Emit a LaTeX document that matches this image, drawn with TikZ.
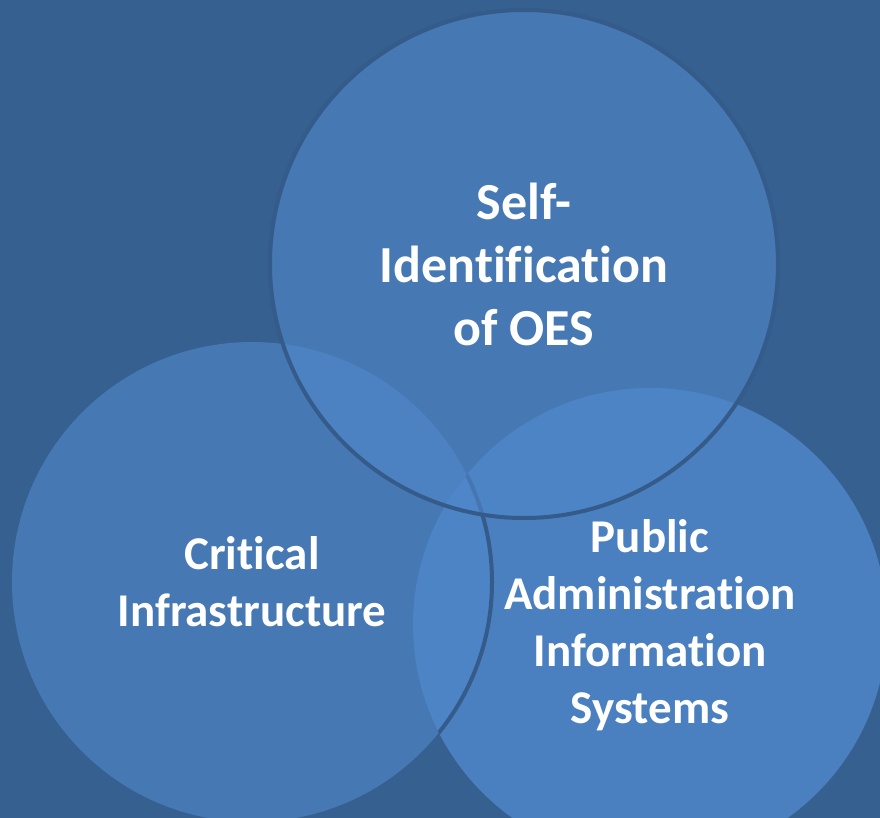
\documentclass[tikz,border=0pt]{standalone}
\usepackage{fontspec}
\setmainfont[Ligatures=NoCommon]{Carlito}
\usepackage{tikz}
\usetikzlibrary{backgrounds}
\definecolor{slideBg}{HTML}{36608F}
\definecolor{vennFill}{HTML}{5088CB}
\definecolor{vennLine}{HTML}{345B8A}
\tikzstyle{vennSet} = [
  circle,
  fill=vennFill,
  fill opacity=0.62,
  text opacity=1,
  text=white,
  align=center,
  inner sep=0pt,
  font=\bfseries\fontsize{47}{57}\selectfont,
  ]
\tikzstyle{vennRim} = [
  draw=vennLine,
  line width=4pt,
  ]

\begin{document}
\begin{tikzpicture}[x=1pt,y=-1pt]
  \fill[slideBg] (0,0) rectangle (880,818);
  \useasboundingbox (0,0) rectangle (880,818);
  \node[vennSet, minimum size=474pt, fill opacity=0.8] (pais) at (650,625)
    {Public\\Administration\\Information\\Systems};
  \node[vennSet, minimum size=480pt] (ci) at (252,582)
    {Critical\\Infrastructure};
  % rim of the left set only shows over the right one
  \begin{scope}
    \clip (pais.center) circle (237);
    \draw[vennRim] (ci.center) circle (240);
  \end{scope}
  \node[vennSet, minimum size=508pt,
    font=\bfseries\fontsize{52}{63}\selectfont] (oes) at (524,264)
    {Self-\\Identification\\of OES};
  \draw[vennRim] (oes.center) circle (254);
\end{tikzpicture}
\end{document}
